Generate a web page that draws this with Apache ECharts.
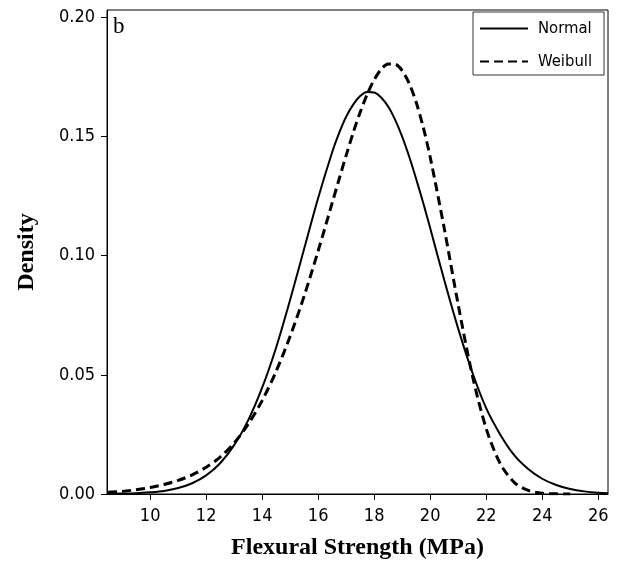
<!DOCTYPE html>
<html>
<head>
<meta charset="utf-8">
<script src="https://cdn.jsdelivr.net/npm/echarts@6/dist/echarts.min.js"></script>
<style>html,body{margin:0;padding:0;background:#fff;}#chart{width:622px;height:565px;}</style>
</head>
<body>
<div id="chart"></div>
<script>
const xs = [8.5, 9, 9.5, 10, 10.5, 11, 11.5, 12, 12.5, 13, 13.5, 14, 14.5, 15, 15.5, 16, 16.5, 16.75, 17, 17.25, 17.5, 17.75, 18, 18.25, 18.5, 18.75, 19, 19.25, 19.5, 19.75, 20, 20.5, 21, 21.5, 22, 22.5, 23, 23.5, 24, 24.5, 25, 25.5, 26, 26.35];
const normal = [0.0001, 0.0002, 0.0003, 0.0007, 0.0013, 0.0025, 0.0045, 0.0078, 0.0129, 0.0205, 0.0309, 0.0446, 0.0615, 0.0815, 0.1029, 0.1242, 0.1434, 0.1515, 0.1583, 0.1634, 0.1670, 0.1687, 0.1685, 0.1664, 0.1626, 0.1570, 0.1500, 0.1416, 0.1322, 0.1222, 0.1116, 0.0899, 0.0694, 0.0512, 0.0360, 0.0250, 0.0163, 0.0105, 0.0064, 0.0038, 0.0021, 0.0011, 0.0005, 0.0003];
const weibull = [0.0007, 0.0011, 0.0018, 0.0027, 0.0040, 0.0057, 0.0080, 0.0112, 0.0155, 0.0214, 0.0293, 0.0392, 0.0515, 0.0662, 0.0831, 0.1020, 0.1221, 0.1322, 0.1421, 0.1516, 0.1602, 0.1677, 0.1738, 0.1782, 0.1804, 0.1803, 0.1777, 0.1723, 0.1644, 0.1540, 0.1414, 0.1116, 0.0795, 0.0501, 0.0275, 0.0128, 0.0049, 0.0015, 0.0003, 0.0001, 0];
const xTicks = [10, 12, 14, 16, 18, 20, 22, 24, 26];
const yTicks = [0, 0.05, 0.10, 0.15, 0.20];
const seriesNames = ['Normal', 'Weibull'];
const xTitle = 'Flexural Strength (MPa)';
const yTitle = 'Density';
const panelLabel = 'b';

const tickFont = "'DejaVu Sans Condensed', 'DejaVu Sans', sans-serif";
const titleFont = "'Liberation Serif', 'Times New Roman', serif";

const chart = echarts.init(document.getElementById('chart'), null, {renderer: 'canvas'});
chart.setOption({
  backgroundColor: '#fff',
  animation: false,
  grid: {left: 107, right: 14, top: 10, bottom: 71, show: true, borderColor: '#000', borderWidth: 1},
  legend: {
    orient: 'vertical', left: 473, top: 12,
    padding: [8, 12, 5, 6],
    itemWidth: 48, itemHeight: 16, itemGap: 16,
    borderColor: '#333', borderWidth: 1,
    itemStyle: {opacity: 0},
    textStyle: {fontFamily: tickFont, fontSize: 16.5, color: '#000', padding: [0, 0, 0, 5], lineHeight: 16},
    data: seriesNames
  },
  xAxis: {
    type: 'value', min: 8.46, max: 26.35,
    name: xTitle, nameLocation: 'middle', nameGap: 42,
    nameTextStyle: {fontFamily: titleFont, fontWeight: 'bold', fontSize: 24, color: '#000'},
    axisLine: {show: true, lineStyle: {color: '#000', width: 1}},
    axisTick: {show: true, length: 6, customValues: xTicks, lineStyle: {color: '#000'}},
    axisLabel: {customValues: xTicks, fontFamily: tickFont, fontSize: 18, color: '#000', margin: 13},
    splitLine: {show: false}
  },
  yAxis: {
    type: 'value', min: 0, max: 0.2031,
    name: yTitle, nameLocation: 'middle', nameGap: 68,
    nameTextStyle: {fontFamily: titleFont, fontWeight: 'bold', fontSize: 24, color: '#000'},
    axisLine: {show: true, lineStyle: {color: '#000', width: 1}},
    axisTick: {show: true, length: 6, customValues: yTicks, lineStyle: {color: '#000'}},
    axisLabel: {customValues: yTicks, fontFamily: tickFont, fontSize: 18, color: '#000', margin: 12,
      formatter: v => v.toFixed(2)},
    splitLine: {show: false}
  },
  graphic: [{
    type: 'text', left: 113, top: 15,
    style: {text: panelLabel, font: "23px 'Liberation Serif', serif", fill: '#000'}
  }],
  series: [
    {
      name: seriesNames[0], type: 'line', symbol: 'none', smooth: 0.3,
      lineStyle: {color: '#000', width: 2, type: 'solid'}, itemStyle: {color: '#000'},
      data: normal.map((y, i) => [xs[i], y])
    },
    {
      name: seriesNames[1], type: 'line', symbol: 'none', smooth: 0.3,
      lineStyle: {color: '#000', width: 3, type: [9, 5]}, itemStyle: {color: '#000'},
      data: weibull.map((y, i) => [xs[i], y])
    }
  ]
});
</script>
</body>
</html>
